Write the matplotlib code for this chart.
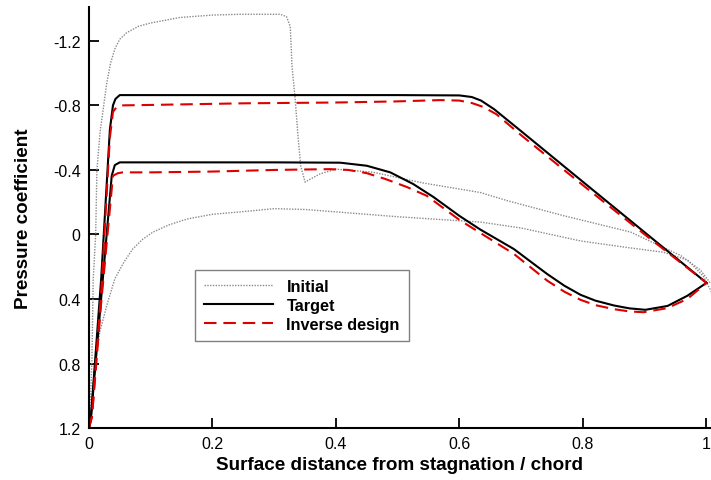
import matplotlib.pyplot as plt
from matplotlib.ticker import FormatStrFormatter

plt.rcParams['font.family'] = ['Liberation Sans', 'DejaVu Sans']
plt.rcParams['axes.unicode_minus'] = False

# initial geometry, upper and lower surface
init_up_x = [0.0, 0.003, 0.005, 0.007, 0.011, 0.013, 0.018, 0.024, 0.029, 0.035, 0.042, 0.05, 0.061,
             0.08, 0.099, 0.147, 0.2, 0.245, 0.31, 0.32, 0.326, 0.329, 0.334, 0.339, 0.343, 0.35,
             0.362, 0.374, 0.40, 0.46, 0.54, 0.634, 0.677, 0.768, 0.877, 0.958, 0.99, 1.006]
init_up_y = [1.2, 1.0, 0.77, 0.28, 0.0, -0.4, -0.63, -0.8, -0.94, -1.06, -1.15, -1.21, -1.25,
             -1.29, -1.31, -1.345, -1.36, -1.365, -1.365, -1.35, -1.29, -1.04, -0.84, -0.59, -0.425, -0.325,
             -0.35, -0.375, -0.405, -0.386, -0.32, -0.26, -0.21, -0.117, -0.015, 0.13, 0.22, 0.30]
init_lo_x = [0.0, 0.003, 0.01, 0.018, 0.029, 0.042, 0.057, 0.071, 0.087, 0.104, 0.13, 0.159, 0.2,
             0.245, 0.3, 0.35, 0.4, 0.5, 0.6, 0.634, 0.7, 0.796, 0.87, 0.93, 0.97, 0.995, 1.01]
init_lo_y = [1.2, 1.14, 0.77, 0.60, 0.44, 0.275, 0.17, 0.09, 0.03, -0.015, -0.06, -0.096, -0.125,
             -0.14, -0.16, -0.155, -0.14, -0.11, -0.085, -0.077, -0.04, 0.04, 0.08, 0.11, 0.16, 0.26, 0.37]

# target pressure distribution
tgt_up_x = [0.0, 0.003, 0.02, 0.034, 0.039, 0.043, 0.05, 0.1, 0.3, 0.5, 0.6, 0.62, 0.635, 0.656,
            0.7, 0.8, 0.9, 1.0]
tgt_up_y = [1.2, 1.15, 0.27, -0.65, -0.80, -0.84, -0.864, -0.864, -0.864, -0.864, -0.862, -0.852, -0.83, -0.777,
            -0.64, -0.326, -0.013, 0.30]
tgt_lo_x = [0.0, 0.003, 0.02, 0.037, 0.042, 0.05, 0.1, 0.3, 0.407, 0.45, 0.488, 0.525, 0.558, 0.6, 0.634,
            0.688, 0.742, 0.77, 0.796, 0.82, 0.85, 0.875, 0.901, 0.937, 0.969, 1.0]
tgt_lo_y = [1.2, 1.15, 0.39, -0.364, -0.43, -0.447, -0.447, -0.447, -0.445, -0.426, -0.385, -0.313, -0.232, -0.115, -0.03,
            0.09, 0.245, 0.318, 0.374, 0.41, 0.44, 0.458, 0.467, 0.443, 0.38, 0.30]

# inverse design result
inv_up_x = [0.0, 0.005, 0.02, 0.034, 0.039, 0.045, 0.05, 0.1, 0.25, 0.4, 0.5, 0.569, 0.6, 0.62, 0.639,
            0.66, 0.7, 0.8, 0.9, 1.0]
inv_up_y = [1.2, 1.13, 0.35, -0.6, -0.76, -0.79, -0.80, -0.803, -0.813, -0.818, -0.825, -0.833, -0.83, -0.815, -0.79,
            -0.745, -0.615, -0.305, 0.0, 0.30]
inv_lo_x = [0.0, 0.005, 0.02, 0.039, 0.047, 0.055, 0.1, 0.2, 0.3, 0.39, 0.42, 0.45, 0.48, 0.515, 0.547,
            0.6, 0.639, 0.688, 0.742, 0.77, 0.796, 0.82, 0.85, 0.875, 0.898, 0.936, 0.969, 1.0]
inv_lo_y = [1.2, 1.13, 0.42, -0.364, -0.38, -0.385, -0.385, -0.39, -0.40, -0.405, -0.40, -0.38, -0.344, -0.294, -0.24,
            -0.09, 0.003, 0.12, 0.286, 0.355, 0.405, 0.438, 0.463, 0.477, 0.482, 0.457, 0.40, 0.30]

fig = plt.figure(figsize=(7.11, 4.81), dpi=100)
ax = fig.add_axes([0.125, 0.108, 0.875, 0.875])

grey = '#8a8a8a'
red = '#dd0000'
ax.plot(init_up_x, init_up_y, c=grey, lw=1.0, ls=(0, (1, 1)), label='Initial')
ax.plot(init_lo_x, init_lo_y, c=grey, lw=1.0, ls=(0, (1, 1)))
ax.plot(tgt_up_x, tgt_up_y, c='black', lw=1.5, label='Target')
ax.plot(tgt_lo_x, tgt_lo_y, c='black', lw=1.5)
ax.plot(inv_up_x, inv_up_y, c=red, lw=1.5, ls=(0, (6, 3.3)), label='Inverse design')
ax.plot(inv_lo_x, inv_lo_y, c=red, lw=1.5, ls=(0, (6, 3.3)))

ax.set_xlim(0, 1.0073)
ax.set_ylim(1.2, -1.409)
ax.set_xticks([0, 0.2, 0.4, 0.6, 0.8, 1.0])
ax.set_yticks([-1.2, -0.8, -0.4, 0, 0.4, 0.8, 1.2])
ax.xaxis.set_major_formatter(FormatStrFormatter('%g'))
ax.yaxis.set_major_formatter(FormatStrFormatter('%g'))
ax.tick_params(direction='in', length=7.5, width=1.3, labelsize=11.5, pad=6)

for key, spine in ax.spines.items():
    if key in ('top', 'right'):
        spine.set_visible(False)
    else:
        spine.set_linewidth(1.5)

ax.set_xlabel('Surface distance from stagnation / chord', fontsize=13.6, fontweight='bold', labelpad=3)
ax.set_ylabel('Pressure coefficient', fontsize=13.6, fontweight='bold', labelpad=15)

leg = ax.legend(loc='lower left', bbox_to_anchor=(0.17, 0.207), fancybox=False, framealpha=1,
                prop={'weight': 'bold', 'size': 11.7}, handlelength=4.3, labelspacing=0.25,
                borderpad=0.55, handletextpad=0.8, borderaxespad=0)
leg.get_frame().set_edgecolor('#808080')
leg.get_frame().set_linewidth(1.0)

fig.savefig('out.png', dpi=100)
